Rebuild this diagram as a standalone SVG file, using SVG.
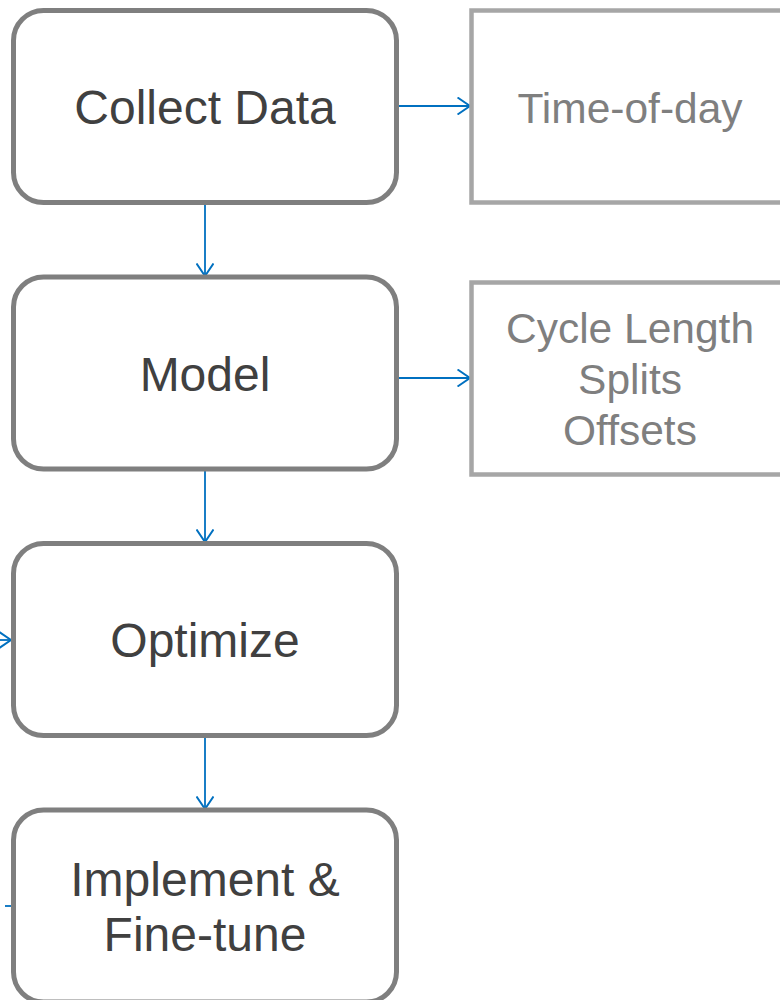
<svg xmlns="http://www.w3.org/2000/svg" width="780" height="1000" viewBox="0 0 780 1000">
<defs>
<style>
.main rect{fill:#fff;stroke:#7f7f7f;stroke-width:5}
.side rect{fill:#fff;stroke:#a6a6a6;stroke-width:4.5}
.main text{font-family:"Liberation Sans",Arial,sans-serif;font-size:48px;fill:#404040;text-anchor:middle}
.side text{font-family:"Liberation Sans",Arial,sans-serif;font-size:42.5px;fill:#7f7f7f;text-anchor:middle}
.conn path{fill:none;stroke:#0070c0;stroke-width:1.8}
</style>
<marker id="ah" viewBox="0 0 14 18" refX="13" refY="9" markerWidth="14" markerHeight="18" markerUnits="userSpaceOnUse" orient="auto">
<path d="M0.5,0.5 L13,9 L0.5,17.5" fill="none" stroke="#0070c0" stroke-width="2"/>
</marker>
</defs>
<rect width="780" height="1000" fill="#fff"/>
<g class="conn">
<path d="M398,106 H470" marker-end="url(#ah)"/>
<path d="M398,378 H470" marker-end="url(#ah)"/>
<path d="M205,203 V276" marker-end="url(#ah)"/>
<path d="M205,469 V542" marker-end="url(#ah)"/>
<path d="M205,736 V809" marker-end="url(#ah)"/>
<path d="M-20,640 H11" marker-end="url(#ah)"/>
<path d="M5,906 H12"/>
</g>
<g id="collect" class="main">
<rect x="13.5" y="10.5" width="383" height="192" rx="30"/>
<text x="205" y="124">Collect Data</text>
</g>
<g id="model" class="main">
<rect x="13.5" y="277" width="383" height="192" rx="30"/>
<text x="205" y="391">Model</text>
</g>
<g id="optimize" class="main">
<rect x="13.5" y="543.5" width="383" height="192" rx="30"/>
<text x="205" y="657">Optimize</text>
</g>
<g id="implement" class="main">
<rect x="13.5" y="810" width="383" height="192" rx="30"/>
<text x="205" y="896">Implement &amp;</text>
<text x="205" y="951">Fine-tune</text>
</g>
<g id="tod" class="side">
<rect x="471.5" y="10.5" width="330" height="192"/>
<text x="630" y="123">Time-of-day</text>
</g>
<g id="params" class="side">
<rect x="471.5" y="282.5" width="330" height="192"/>
<text x="630" y="343">Cycle Length</text>
<text x="630" y="394">Splits</text>
<text x="630" y="445">Offsets</text>
</g>
</svg>
